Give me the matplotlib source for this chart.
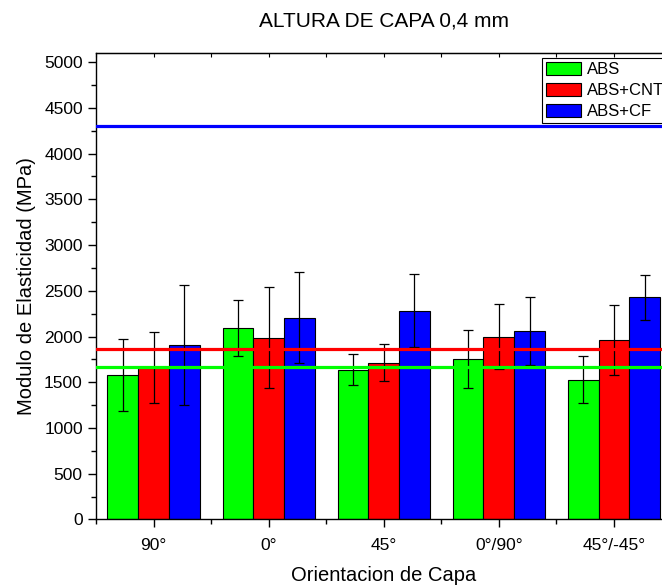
import numpy as np
import matplotlib
matplotlib.use('Agg')
import matplotlib.pyplot as plt
from matplotlib.ticker import MultipleLocator

plt.rcParams['font.family'] = ['Liberation Sans', 'DejaVu Sans']

categories = ['90°', '0°', '45°', '0°/90°', '45°/-45°']
series = ['ABS', 'ABS+CNT', 'ABS+CF']
abs_vals = [1581, 2092, 1639, 1752, 1530]
abs_err = [393, 310, 170, 315, 260]
cnt_vals = [1661, 1989, 1715, 2000, 1960]
cnt_err = [390, 550, 200, 360, 380]
cf_vals = [1906, 2208, 2281, 2062, 2427]
cf_err = [653, 495, 400, 370, 250]
# reference lines (mean values)
ref_lines = [1672, 1862, 4297]

colors = ['#00ff00', '#ff0000', '#0000ff']

fig = plt.figure(figsize=(6.62, 5.85), dpi=100)
ax = fig.add_axes([0.145, 0.112, 0.8693, 0.7974])

x = np.arange(1, len(categories) + 1)
w = 0.267
vals = [abs_vals, cnt_vals, cf_vals]
errs = [abs_err, cnt_err, cf_err]
for i in range(3):
    ax.bar(x + (i - 1) * w, vals[i], w, color=colors[i], edgecolor='black',
           linewidth=0.8, label=series[i], zorder=2)
    ax.errorbar(x + (i - 1) * w, vals[i], yerr=errs[i], fmt='none', ecolor='black',
                elinewidth=0.9, capsize=3.5, capthick=0.9, zorder=3)

for v, c in zip(ref_lines, colors):
    ax.axhline(v, color=c, linewidth=2.3, zorder=4)

ax.set_xlim(0.5, 5.5)
ax.set_ylim(0, 5100)
ax.set_xticks(x)
ax.set_xticklabels(categories)
ax.set_xticks(np.arange(0.5, 5.6, 1), minor=True)
ax.yaxis.set_major_locator(MultipleLocator(500))
ax.yaxis.set_minor_locator(MultipleLocator(250))
ax.tick_params(axis='both', which='major', direction='out', length=6, width=1, labelsize=12.5)
ax.tick_params(axis='both', which='minor', direction='out', length=3.5, width=1)
ax.tick_params(axis='x', which='major', pad=7)

# short inward ticks on the top spine
top = ax.secondary_xaxis('top')
top.set_xticks(x)
top.set_xticks(np.arange(0.5, 5.6, 1), minor=True)
top.tick_params(which='both', direction='in', length=3, width=0.8, labeltop=False)

for s in ax.spines.values():
    s.set_linewidth(1)

ax.set_xlabel('Orientacion de Capa', fontsize=14.5, labelpad=10)
ax.set_ylabel('Modulo de Elasticidad (MPa)', fontsize=14.5, labelpad=6)
ax.set_title('ALTURA DE CAPA 0,4 mm', fontsize=15, pad=19)

leg = ax.legend(loc='upper right', bbox_to_anchor=(0.995, 0.99), fontsize=12,
                frameon=True, fancybox=False, framealpha=1, edgecolor='black',
                handlelength=2.1, handleheight=0.8, labelspacing=0.35,
                borderpad=0.25, handletextpad=0.35, borderaxespad=0)
leg.get_frame().set_linewidth(0.8)

fig.savefig('out.png', dpi=100)
